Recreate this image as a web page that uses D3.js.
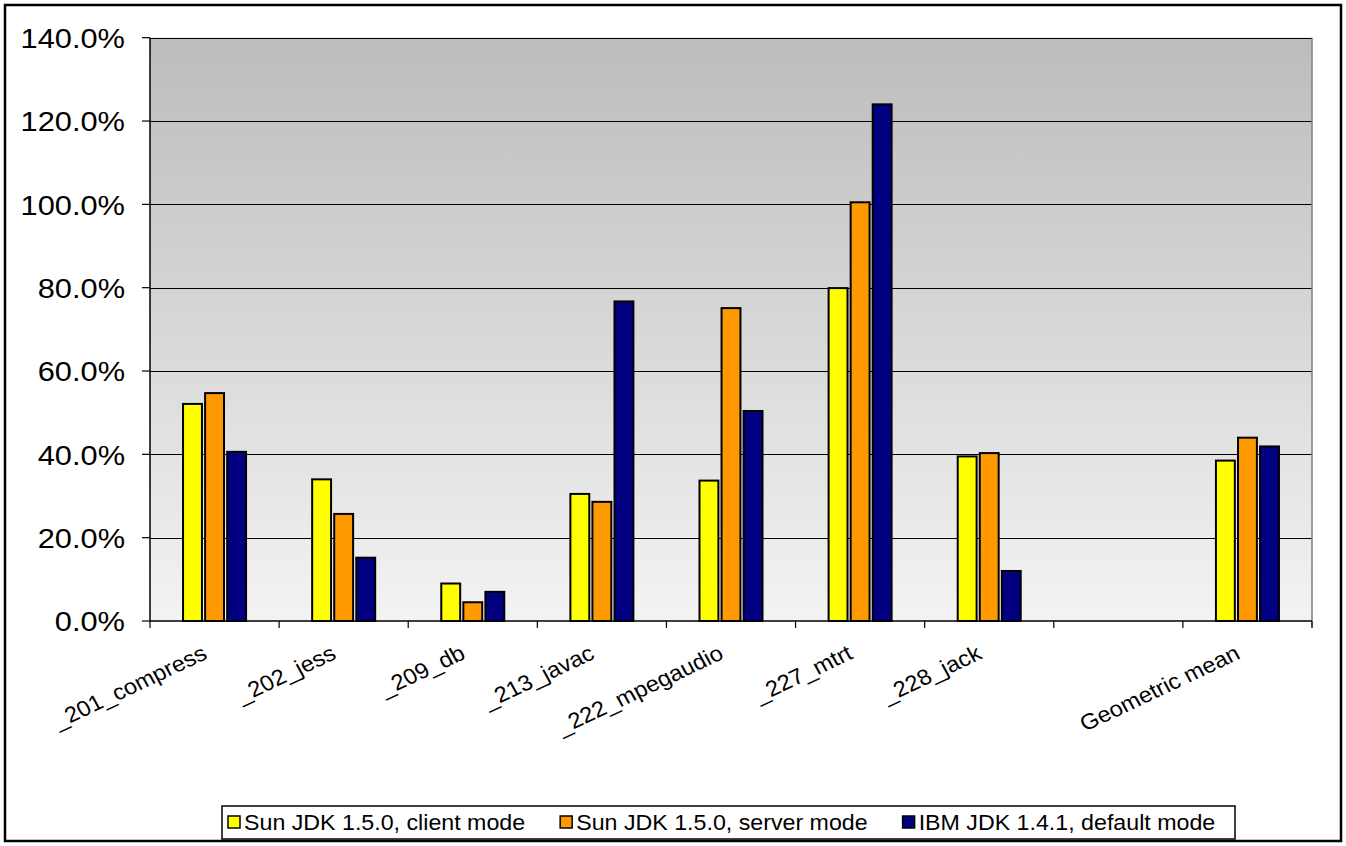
<!DOCTYPE html>
<html>
<head>
<meta charset="utf-8">
<script src="https://cdn.jsdelivr.net/npm/d3@7"></script>
<style>
  html, body { margin: 0; padding: 0; background: #fff; }
  svg { display: block; font-family: "Liberation Sans", Arial, sans-serif; }
</style>
</head>
<body>
<svg id="chart" width="1346" height="846"></svg>
<script>
// Benchmarks (the empty slot keeps a gap before the geometric mean)
const categories = ["_201_compress", "_202_jess", "_209_db", "_213_javac",
                    "_222_mpegaudio", "_227_mtrt", "_228_jack", "", "Geometric mean"];
const seriesNames = ["Sun JDK 1.5.0, client mode", "Sun JDK 1.5.0, server mode",
                     "IBM JDK 1.4.1, default mode"];
const sunClient = [52.1, 34.0, 9.0, 30.5, 33.7, 79.9, 39.5, null, 38.5];
const sunServer = [54.7, 25.7, 4.5, 28.6, 75.1, 100.5, 40.3, null, 44.0];
const ibmDefault = [40.6, 15.2, 7.0, 76.7, 50.4, 124.0, 12.0, null, 41.9];
const yTicks = [0, 20, 40, 60, 80, 100, 120, 140];
const colors = ["#ffff00", "#ff9900", "#000080"];

const series = [sunClient, sunServer, ibmDefault];
const svg = d3.select("#chart");
const W = 1346, H = 846;
const plot = { left: 150, right: 1312, top: 37.7, bottom: 621 };
const stretch = 1.08;

// outer frame
svg.append("rect").attr("x", 5).attr("y", 5).attr("width", W - 10).attr("height", H - 10)
  .attr("fill", "#fff").attr("stroke", "#000").attr("stroke-width", 2.5);

// background gradient of the plot area
const defs = svg.append("defs");
const grad = defs.append("linearGradient").attr("id", "bg").attr("x1", 0).attr("y1", 0).attr("x2", 0).attr("y2", 1);
grad.append("stop").attr("offset", "0%").attr("stop-color", "#bcbcbc");
grad.append("stop").attr("offset", "100%").attr("stop-color", "#f3f3f3");

const x0 = d3.scaleBand().domain(d3.range(categories.length)).range([plot.left, plot.right]).padding(0);
const groupW = 63;
const x1 = d3.scaleBand().domain(d3.range(series.length)).range([0, groupW]).paddingInner(0.143).paddingOuter(0);
const y = d3.scaleLinear().domain([0, 140]).range([plot.bottom, plot.top]);

svg.append("rect").attr("x", plot.left).attr("y", plot.top)
  .attr("width", plot.right - plot.left).attr("height", plot.bottom - plot.top)
  .attr("fill", "url(#bg)");

// gridlines
svg.append("g").selectAll("line").data(yTicks.filter(d => d > 0)).join("line")
  .attr("x1", plot.left).attr("x2", plot.right)
  .attr("y1", d => Math.round(y(d)) + 0.5).attr("y2", d => Math.round(y(d)) + 0.5)
  .attr("stroke", "#000").attr("stroke-width", 1.2);

// right border of the plot area
svg.append("line").attr("x1", plot.right).attr("x2", plot.right)
  .attr("y1", plot.top).attr("y2", plot.bottom + 6).attr("stroke", "#808080").attr("stroke-width", 1.5);

// bars
const groups = svg.append("g").selectAll("g").data(categories.map((c, i) => i)).join("g")
  .attr("transform", i => `translate(${x0(i) + (x0.bandwidth() - groupW) / 2},0)`);
groups.selectAll("rect").data(i => series.map((s, k) => ({ k, v: s[i] })).filter(d => d.v != null)).join("rect")
  .attr("x", d => x1(d.k)).attr("width", x1.bandwidth())
  .attr("y", d => y(d.v)).attr("height", d => y(0) - y(d.v))
  .attr("fill", d => colors[d.k]).attr("stroke", "#000").attr("stroke-width", 2);

// y axis
const yAxis = svg.append("g").attr("transform", `translate(${plot.left},0)`);
yAxis.append("line").attr("x1", 0).attr("x2", 0).attr("y1", plot.top).attr("y2", plot.bottom)
  .attr("stroke", "#000").attr("stroke-width", 1.5);
const yt = yAxis.selectAll("g.tick").data(yTicks).join("g").attr("class", "tick")
  .attr("transform", d => `translate(0,${y(d)})`);
yt.append("line").attr("x1", -8).attr("x2", 0).attr("stroke", "#000").attr("stroke-width", 1.2);
yt.append("text").attr("transform", `translate(-25,0) scale(${stretch},1)`)
  .attr("text-anchor", "end").attr("dy", "0.36em").attr("font-size", 28.5).attr("fill", "#000")
  .text(d => d3.format(".1f")(d) + "%");

// x axis
const xAxis = svg.append("g").attr("transform", `translate(0,${plot.bottom})`);
xAxis.append("line").attr("x1", plot.left).attr("x2", plot.right).attr("stroke", "#000").attr("stroke-width", 1.5);
xAxis.selectAll("line.tick").data(d3.range(categories.length + 1)).join("line").attr("class", "tick")
  .attr("x1", i => plot.left + i * x0.step()).attr("x2", i => plot.left + i * x0.step())
  .attr("y1", 0).attr("y2", 7).attr("stroke", "#000").attr("stroke-width", 1.2);
xAxis.selectAll("text").data(categories.map((c, i) => i)).join("text")
  .attr("transform", i => `translate(${x0(i) + x0.bandwidth() / 2 - 6},37) scale(${stretch},1) rotate(-27)`)
  .attr("text-anchor", "end").attr("font-size", 22).attr("fill", "#000")
  .text(i => categories[i]);

// legend: items laid out left to right from their measured widths
const legend = svg.append("g");
legend.append("rect").attr("x", 222).attr("y", 806).attr("width", 1013).attr("height", 33)
  .attr("fill", "#fff").attr("stroke", "#000").attr("stroke-width", 1.5);
let cursor = 228;
seriesNames.forEach((name, i) => {
  const item = legend.append("g").attr("transform", `translate(${cursor},822)`);
  item.append("rect").attr("x", 0).attr("y", -6).attr("width", 12).attr("height", 12)
    .attr("fill", colors[i]).attr("stroke", "#000").attr("stroke-width", 1.5);
  const t = item.append("text").attr("transform", `translate(16,0) scale(${stretch},1)`)
    .attr("dy", "0.36em").attr("font-size", 21.5).attr("fill", "#000").text(name);
  cursor += 16 + t.node().getComputedTextLength() * stretch + 35;
});
</script>
</body>
</html>
